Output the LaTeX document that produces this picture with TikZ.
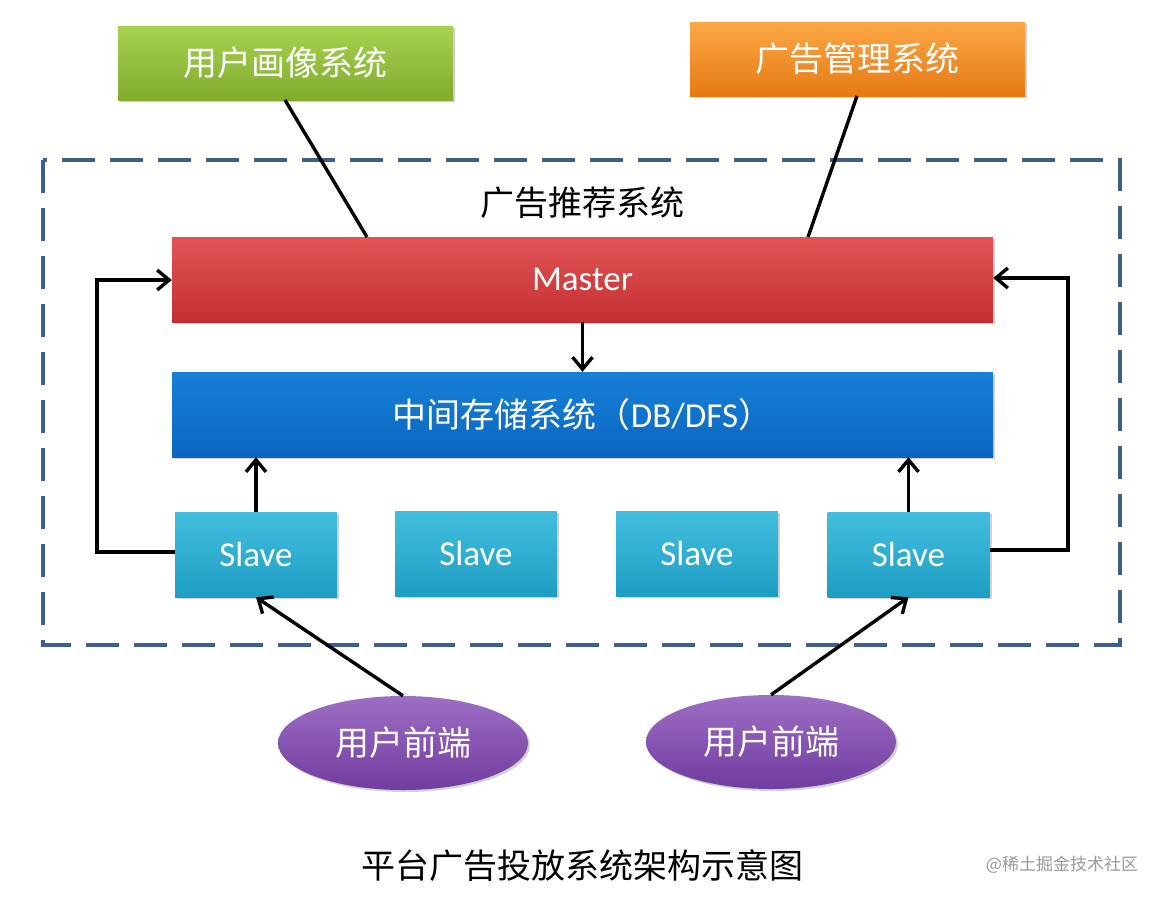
\documentclass[tikz,border=0pt]{standalone}
\usepackage{fontspec}
\setmainfont{Carlito}
\newfontfamily\cjk{Noto Sans CJK SC}
\usetikzlibrary{arrows.meta,shadows,shapes.geometric}
\definecolor{dashblue}{HTML}{3D5F8E}
\tikzset{
  box/.style={draw=none, minimum height=#1, inner sep=0pt, text=white, drop shadow={shadow xshift=2pt,shadow yshift=-2pt,opacity=0.35}},
  zh/.style={font=\cjk\fontsize{34}{39}\selectfont},
  en/.style={font=\fontsize{35}{40}\selectfont},
  conn/.style={line width=3.4pt, black},
  arr/.style={conn, -{Straight Barb[length=12pt,width=20pt,line width=3.4pt]}},
}
\begin{document}
\begin{tikzpicture}[x=1pt,y=-1pt]
\useasboundingbox (0,0) rectangle (1168,900);
\fill[white] (0,0) rectangle (1168,900);
% dashed frame
\draw[dashblue, line width=3.6pt, dash pattern=on 33pt off 15pt] (43,160) rectangle (1120,645);
\node[zh, text=black] (rec) at (582,203) {广告推荐系统};
% top boxes
\node[box=74pt, minimum width=335pt, top color={rgb,255:red,168;green,210;blue,80}, bottom color={rgb,255:red,128;green,172;blue,46}, zh] (user) at (285.5,63) {用户画像系统};
\node[box=74pt, minimum width=335pt, top color={rgb,255:red,250;green,168;blue,70}, bottom color={rgb,255:red,230;green,122;blue,20}, zh] (ad) at (857.5,59) {广告管理系统};
% master & storage
\node[box=85pt, minimum width=821pt, top color={rgb,255:red,226;green,84;blue,84}, bottom color={rgb,255:red,196;green,48;blue,50}, en] (master) at (582.5,279.5) {Master};
\node[box=85pt, minimum width=821pt, top color={rgb,255:red,24;green,128;blue,214}, bottom color={rgb,255:red,10;green,102;blue,192}, zh] (store) at (582.5,414.5) {中间存储系统（{\fontspec{Carlito}\fontsize{35}{40}\selectfont DB/DFS}）};
% slaves
\tikzset{slave/.style={box=85pt, minimum width=162pt, top color={rgb,255:red,66;green,190;blue,222}, bottom color={rgb,255:red,30;green,158;blue,196}, en}}
\node[slave] (s1) at (256,554.5) {Slave};
\node[slave] (s2) at (476,553.5) {Slave};
\node[slave] (s3) at (697,553.5) {Slave};
\node[slave] (s4) at (908.5,554.5) {Slave};
% front ends
\tikzset{front/.style={ellipse, draw=none, minimum width=250pt, minimum height=94pt, inner sep=0pt, text=white, zh, top color={rgb,255:red,158;green,110;blue,196}, bottom color={rgb,255:red,112;green,60;blue,160}, drop shadow={shadow xshift=2pt,shadow yshift=-2pt,opacity=0.35}}}
\node[front] (f1) at (403,743) {用户前端};
\node[front] (f2) at (771,742) {用户前端};
% title & watermark
\node[zh, text=black] (title) at (582,866) {平台广告投放系统架构示意图};
\node[font=\cjk\fontsize{17}{20}\selectfont, text=gray!80] (wm) at (1062,865) {@稀土掘金技术社区};
% connectors
\coordinate (u0) at (285,100);
\coordinate (u1) at (367,237);
\coordinate (a0) at (857,96);
\coordinate (a1) at (808,237);
\draw[conn] (u0) -- (u1);
\draw[conn] (a0) -- (a1);
\draw[arr] (master.south) -- (store.north);
\draw[arr] (s1.north) -- (s1.north |- store.south);
\draw[arr] (s4.north) -- (s4.north |- store.south);
\coordinate (l1) at (97,552);
\coordinate (l2) at (97,280);
\draw[arr] (s1.west |- l1) -- (l1) -- (l2) -- (master.west |- l2);
\coordinate (r1) at (1068,550);
\coordinate (r2) at (1068,278);
\draw[arr] (s4.east |- r1) -- (r1) -- (r2) -- (master.east |- r2);
\draw[arr] (f1.north) -- (s1.south);
\draw[arr] (f2.north) -- (s4.south);
\end{tikzpicture}
\end{document}
